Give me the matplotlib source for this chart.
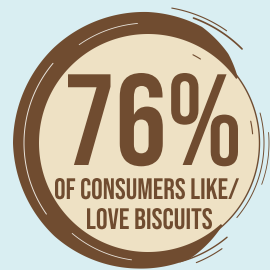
import numpy as np
import matplotlib
matplotlib.use("Agg")
import matplotlib.pyplot as plt
from matplotlib import font_manager
from matplotlib.font_manager import FontProperties
from matplotlib.patches import Polygon, Circle
from matplotlib.textpath import TextPath
from matplotlib.transforms import Affine2D
import matplotlib.patheffects as pe

# ---- data ----
percent_value = 76
headline = f"{percent_value}%"
caption_lines = ["OF CONSUMERS LIKE/", "LOVE BISCUITS"]

BG = "#d9eef2"
CREAM = "#eee1c4"
BROWN = "#704c30"

# ---- pick the most condensed bold family available ----
entries = font_manager.fontManager.ttflist
names = {f.name for f in entries}
FAMILY, STRETCH = "DejaVu Sans", "normal"
for cand in ["Bebas Neue", "Oswald", "Roboto Condensed", "Liberation Sans Narrow",
             "Open Sans Condensed", "Noto Sans Condensed", "Noto Sans SemiCondensed",
             "Arial Narrow"]:
    if cand in names:
        FAMILY = cand
        break
else:
    found = False
    for fam in ["Noto Sans", "Open Sans", "DejaVu Sans", "Roboto"]:
        for f in entries:
            if f.name == fam and "condensed" in str(f.stretch) and f.weight in (600, 700, 800, 900, "bold"):
                FAMILY, STRETCH = fam, f.stretch
                found = True
                break
        if found:
            break
    if not found and "Roboto" in names:
        FAMILY = "Roboto"

FP = FontProperties(family=FAMILY, weight="bold", stretch=STRETCH)


class Stretch(pe.AbstractPathEffect):
    def __init__(self, sx, sy):
        super().__init__()
        self.sx, self.sy = sx, sy
        self.text = None

    def draw_path(self, renderer, gc, tpath, affine, rgbFace=None):
        x, y = self.text.get_transform().transform(self.text.get_position())
        t = affine + Affine2D().translate(-x, -y).scale(self.sx, self.sy).translate(x, y)
        renderer.draw_path(gc, tpath, t, rgbFace)


def fitted_text(ax, s, x0, x1, top, baseline):
    """Real text, sized so its ink fills the box [x0,x1] x [top,baseline] (image px)."""
    ext = TextPath((0, 0), s, size=100, prop=FP).get_extents()
    cap = baseline - top
    px_per_unit = cap / ext.y1
    size_px = 100 * px_per_unit
    fontsize = size_px * 72 / 100
    sx = (x1 - x0) / (ext.width * px_per_unit)
    x_anchor = x0 - ext.x0 * px_per_unit * sx
    eff = Stretch(sx, 1.0)
    t = ax.text(x_anchor, baseline, s, ha="left", va="baseline", fontsize=fontsize,
                color=BROWN, fontproperties=FP, path_effects=[eff])
    t.set_fontsize(fontsize)
    eff.text = t
    return t


fig = plt.figure(figsize=(2.7, 2.7), dpi=100)
fig.patch.set_facecolor(BG)
ax = fig.add_axes([0, 0, 1, 1])
ax.set_xlim(0, 270)
ax.set_ylim(270, 0)
ax.axis("off")

cx, cy, R = 148, 143, 111
ax.add_patch(Circle((cx, cy), R, facecolor=CREAM, edgecolor="none", zorder=1))

# thick brush ring (angles in degrees, counterclockwise on screen)
th_knots = [36, 48, 65, 90, 135, 180, 225, 265, 290, 312]
t_knots = [0, 9, 17, 20, 23, 24, 21, 15, 12, 0]
th = np.linspace(36, 312, 400)
t = np.interp(th, th_knots, t_knots)
rad = np.deg2rad(th)
r_in = R - 2
r_out = R + t
xo = cx + r_out * np.cos(rad); yo = cy - r_out * np.sin(rad)
xi = cx + r_in * np.cos(rad); yi = cy - r_in * np.sin(rad)
poly = np.vstack([np.column_stack([xo, yo]), np.column_stack([xi, yi])[::-1]])
ax.add_patch(Polygon(poly, closed=True, facecolor=BROWN, edgecolor="none", zorder=2))


def arc(r, a0, a1, lw, color, c=(cx, cy), z=3, alpha=1.0):
    a = np.deg2rad(np.linspace(a0, a1, 120))
    ax.plot(c[0] + r * np.cos(a), c[1] - r * np.sin(a), color=color, lw=lw,
            solid_capstyle="round", zorder=z, alpha=alpha)

# light streaks inside the brush
arc(R + 13, 140, 215, 0.7, "#e9e4dc")
arc(R + 9, 95, 125, 0.6, "#e9e4dc")
arc(R + 7, 230, 262, 0.6, "#e9e4dc")
# thin brush strands on right side
arc(R + 0.5, -62, 38, 1.0, BROWN)
arc(R + 5, -40, 15, 0.7, BROWN)
arc(R + 10, -20, 5, 0.6, BROWN)
arc(R + 22, 45, 70, 1.2, BROWN)
arc(R + 26, 55, 80, 0.8, BROWN)
arc(R + 12, -75, -50, 1.0, BROWN)
arc(R + 18, -68, -55, 0.8, BROWN)
# small dashes inside the cream disc
arc(R - 12, 58, 63, 0.8, BROWN)
arc(R - 6, 5, 12, 0.8, BROWN)

# ---- text ----
fitted_text(ax, headline, 68, 238, 73, 165)
fitted_text(ax, caption_lines[0], 55, 239, 178, 199)
fitted_text(ax, caption_lines[1], 87, 212, 208, 229)

fig.savefig("out.png", dpi=100, facecolor=BG)
